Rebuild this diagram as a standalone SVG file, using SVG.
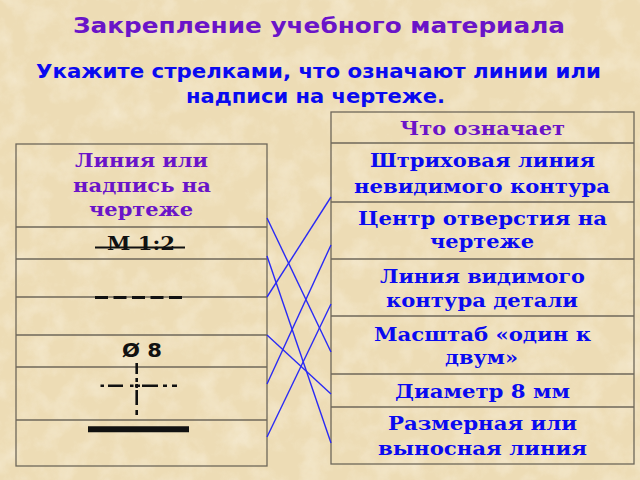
<svg xmlns="http://www.w3.org/2000/svg" width="640" height="480" viewBox="0 0 640 480">
<defs>
<filter id="tex" x="0" y="0" width="100%" height="100%">
<feTurbulence type="fractalNoise" baseFrequency="0.04" numOctaves="4" seed="7" result="n"/>
<feColorMatrix in="n" type="matrix" values="0 0 0 0 0.98  0 0 0 0 0.94  0 0 0 0 0.84  0 0 0 1.1 -0.45"/>
</filter>
<style>
.bg{fill:#eddcb5}
.cell{fill:none;stroke:#6e675a;stroke-width:1.3}
.sans{font-family:"DejaVu Sans","Liberation Sans",sans-serif;font-weight:bold}
.serif{font-family:"DejaVu Serif","Liberation Serif",serif;font-weight:bold}
.purple{fill:#6a14c8}
.blue{fill:#0a0af0}
.mid{text-anchor:middle}
.conn line{stroke:#2a2af5;stroke-width:1.4}
.ink{stroke:#111;fill:none}
</style>
</defs>
<rect class="bg" x="0" y="0" width="640" height="480"/>
<rect x="0" y="0" width="640" height="480" filter="url(#tex)" opacity="0.75"/>

<g id="title">
<text class="sans purple mid" x="319" y="33" font-size="21" textLength="492" lengthAdjust="spacingAndGlyphs">Закрепление учебного материала</text>
</g>
<g id="subtitle">
<text class="sans blue mid" x="318.5" y="78" font-size="19" textLength="565" lengthAdjust="spacingAndGlyphs">Укажите стрелками, что означают линии или</text>
<text class="sans blue mid" x="315.5" y="103" font-size="19" textLength="259" lengthAdjust="spacingAndGlyphs">надписи на чертеже.</text>
</g>

<g id="left-table">
<rect class="cell" x="16" y="144" width="251" height="322"/>
<line class="cell" x1="16" y1="227" x2="267" y2="227"/>
<line class="cell" x1="16" y1="259" x2="267" y2="259"/>
<line class="cell" x1="16" y1="297" x2="267" y2="297"/>
<line class="cell" x1="16" y1="335" x2="267" y2="335"/>
<line class="cell" x1="16" y1="367" x2="267" y2="367"/>
<line class="cell" x1="16" y1="420" x2="267" y2="420"/>
</g>
<g id="left-header">
<text class="serif purple mid" x="141.5" y="167" font-size="19" textLength="133" lengthAdjust="spacingAndGlyphs">Линия или</text>
<text class="serif purple mid" x="142" y="192" font-size="19" textLength="138" lengthAdjust="spacingAndGlyphs">надпись на</text>
<text class="serif purple mid" x="141" y="216" font-size="19" textLength="104" lengthAdjust="spacingAndGlyphs">чертеже</text>
</g>
<g id="left-scale">
<text class="serif mid" x="141" y="250" font-size="19" fill="#111" textLength="68" lengthAdjust="spacingAndGlyphs">М 1:2</text>
<line class="ink" x1="95" y1="247.5" x2="185" y2="247.5" stroke-width="2"/>
</g>
<g id="left-dashed">
<line class="ink" x1="95" y1="297.5" x2="182" y2="297.5" stroke-width="3" stroke-dasharray="13 5.5"/>
</g>
<g id="left-diameter">
<text class="sans mid" x="142" y="357" font-size="19" fill="#111" textLength="40" lengthAdjust="spacingAndGlyphs">Ø 8</text>
</g>
<g id="left-center">
<path class="ink" stroke-width="2.6" d="M100.5 385.7H104M108 385.7H123M130 385.7H133.5M135 385.7H140M142 385.7H158M163 385.7H167M172 385.7H177"/>
<path class="ink" stroke-width="2.6" d="M136.7 363V374M136.7 378V382M136.7 384V388M136.7 390V405M136.7 410V415"/>
</g>
<g id="left-solid">
<line class="ink" x1="88" y1="429.3" x2="189" y2="429.3" stroke-width="6"/>
</g>

<g id="right-table">
<rect class="cell" x="331" y="112" width="303" height="352"/>
<line class="cell" x1="331" y1="143" x2="634" y2="143"/>
<line class="cell" x1="331" y1="202" x2="634" y2="202"/>
<line class="cell" x1="331" y1="259" x2="634" y2="259"/>
<line class="cell" x1="331" y1="316" x2="634" y2="316"/>
<line class="cell" x1="331" y1="374" x2="634" y2="374"/>
<line class="cell" x1="331" y1="407" x2="634" y2="407"/>
</g>
<g id="right-header">
<text class="serif purple mid" x="482.5" y="135" font-size="19" textLength="165" lengthAdjust="spacingAndGlyphs">Что означает</text>
</g>
<g id="right-hidden">
<text class="serif blue mid" x="482.5" y="167" font-size="19" textLength="225" lengthAdjust="spacingAndGlyphs">Штриховая линия</text>
<text class="serif blue mid" x="482" y="193" font-size="19" textLength="256" lengthAdjust="spacingAndGlyphs">невидимого контура</text>
</g>
<g id="right-center">
<text class="serif blue mid" x="482.5" y="225" font-size="19" textLength="249" lengthAdjust="spacingAndGlyphs">Центр отверстия на</text>
<text class="serif blue mid" x="482" y="248" font-size="19" textLength="104" lengthAdjust="spacingAndGlyphs">чертеже</text>
</g>
<g id="right-visible">
<text class="serif blue mid" x="482.5" y="283" font-size="19" textLength="205" lengthAdjust="spacingAndGlyphs">Линия видимого</text>
<text class="serif blue mid" x="482" y="307" font-size="19" textLength="192" lengthAdjust="spacingAndGlyphs">контура детали</text>
</g>
<g id="right-scale">
<text class="serif blue mid" x="482.5" y="341" font-size="19" textLength="217" lengthAdjust="spacingAndGlyphs">Масштаб «один к</text>
<text class="serif blue mid" x="481.5" y="364" font-size="19" textLength="73" lengthAdjust="spacingAndGlyphs">двум»</text>
</g>
<g id="right-diameter">
<text class="serif blue mid" x="482.5" y="398" font-size="19" textLength="175" lengthAdjust="spacingAndGlyphs">Диаметр 8 мм</text>
</g>
<g id="right-dimension">
<text class="serif blue mid" x="482.5" y="430" font-size="19" textLength="189" lengthAdjust="spacingAndGlyphs">Размерная или</text>
<text class="serif blue mid" x="482.5" y="455" font-size="19" textLength="209" lengthAdjust="spacingAndGlyphs">выносная линия</text>
</g>

<g id="connectors" class="conn">
<line x1="267" y1="218" x2="331" y2="352"/>
<line x1="267" y1="256" x2="331" y2="443"/>
<line x1="267" y1="297" x2="331" y2="197"/>
<line x1="267" y1="335" x2="331" y2="394"/>
<line x1="267" y1="384" x2="331" y2="245"/>
<line x1="267" y1="437" x2="331" y2="304"/>
</g>
</svg>
